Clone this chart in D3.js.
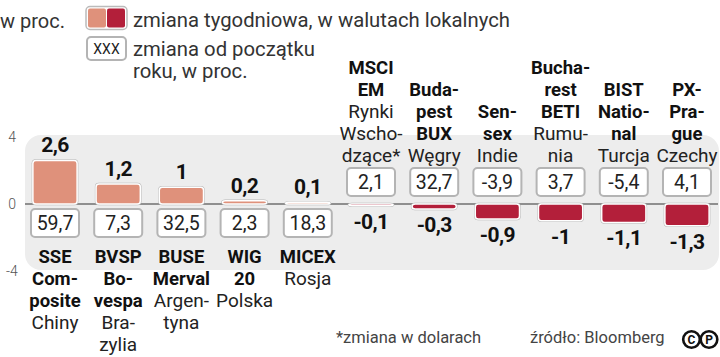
<!DOCTYPE html>
<html>
<head>
<meta charset="utf-8">
<script src="https://cdn.jsdelivr.net/npm/d3@7"></script>
<style>
  html, body { margin: 0; padding: 0; background: #fff; }
  svg { display: block; font-family: Roboto, "Noto Sans", sans-serif; }
</style>
</head>
<body>
<svg id="chart" width="720" height="357"></svg>
<script>
const categories = ["SSE", "BVSP", "BUSE", "WIG20", "MICEX", "MSCI EM", "BUX", "Sensex", "BETI", "BIST", "PX"];
const boldLines = [
  ["SSE", "Com-", "posite"],
  ["BVSP", "Bo-", "vespa"],
  ["BUSE", "Merval"],
  ["WIG", "20"],
  ["MICEX"],
  ["MSCI", "EM"],
  ["Buda-", "pest", "BUX"],
  ["Sen-", "sex"],
  ["Bucha-", "rest", "BETI"],
  ["BIST", "Natio-", "nal"],
  ["PX-", "Pra-", "gue"]
];
const countryLines = [
  ["Chiny"],
  ["Bra-", "zylia"],
  ["Argen-", "tyna"],
  ["Polska"],
  ["Rosja"],
  ["Rynki", "Wscho-", "dzące*"],
  ["Węgry"],
  ["Indie"],
  ["Rumu-", "nia"],
  ["Turcja"],
  ["Czechy"]
];
const weeklyChange = [2.6, 1.2, 1, 0.2, 0.1, -0.1, -0.3, -0.9, -1, -1.1, -1.3];
const ytdChange = [59.7, 7.3, 32.5, 2.3, 18.3, 2.1, 32.7, -3.9, 3.7, -5.4, 4.1];
const yTicks = [4, 0, -4];

const fmt = v => String(v).replace(".", ",");
const POS = "#df917b", NEG = "#b31f3a";

const svg = d3.select("#chart");

const x = d3.scaleBand().domain(categories).range([23.4, 718.6]).paddingInner(0.3).paddingOuter(0.15);
const y = d3.scaleLinear().domain([-4, 4]).range([271, 137]);
const y0 = y(0);

// panel
svg.append("rect").attr("x", 25).attr("y", 135).attr("width", 694).attr("height", 135)
  .attr("rx", 16).attr("fill", "#ededed");

// y axis labels
const yAxis = d3.axisLeft(y).tickValues(yTicks).tickSize(0).tickFormat(d => String(d));
const ya = svg.append("g").attr("transform", "translate(19,0)").call(yAxis);
ya.select(".domain").remove();
ya.selectAll("text").attr("font-size", 14).attr("fill", "#555").attr("font-family", "Roboto, sans-serif").attr("font-weight", 300).attr("text-anchor", "middle").attr("x", -7);

// zero line
svg.append("line").attr("x1", 25).attr("x2", 718).attr("y1", y0).attr("y2", y0)
  .attr("stroke", "#333").attr("stroke-width", 1.2);

const g = svg.append("g").selectAll("g").data(categories).join("g")
  .attr("transform", d => `translate(${x(d)},0)`);
const bw = x.bandwidth();

// bar shadows
g.append("rect")
  .attr("x", -1.2).attr("width", bw + 2.4)
  .attr("y", (d, i) => Math.min(y(weeklyChange[i]), y0) - 1.2)
  .attr("height", (d, i) => Math.abs(y(weeklyChange[i]) - y0) + 2.4)
  .attr("rx", 4).attr("fill", "#b5b5b5");
// bars
g.append("rect")
  .attr("x", 0).attr("width", bw)
  .attr("y", (d, i) => Math.min(y(weeklyChange[i]), y0))
  .attr("height", (d, i) => Math.abs(y(weeklyChange[i]) - y0))
  .attr("rx", 3).attr("fill", (d, i) => weeklyChange[i] >= 0 ? POS : NEG)
  .attr("stroke", "#fff").attr("stroke-width", 1.5);

// value labels
g.append("text")
  .attr("x", bw / 2)
  .attr("y", (d, i) => weeklyChange[i] >= 0 ? y(weeklyChange[i]) - 8 : y(weeklyChange[i]) + 23)
  .attr("text-anchor", "middle").attr("font-size", 21).attr("font-weight", 700)
  .attr("fill", "#111").attr("letter-spacing", -0.6)
  .text((d, i) => fmt(weeklyChange[i]));

// YTD boxes
const boxW = 48, boxH = 28;
const boxTop = i => weeklyChange[i] >= 0 ? y0 + 5 : y0 - 36;
g.append("rect")
  .attr("x", bw / 2 - boxW / 2).attr("width", boxW)
  .attr("y", (d, i) => boxTop(i)).attr("height", boxH)
  .attr("rx", 4).attr("fill", "#fff").attr("stroke", "#b4b4b4").attr("stroke-width", 2);
g.append("text")
  .attr("x", bw / 2).attr("y", (d, i) => boxTop(i) + 21)
  .attr("text-anchor", "middle").attr("font-size", 19.5).attr("fill", "#222")
  .text((d, i) => fmt(ytdChange[i]));

// category labels
g.each(function (d, i) {
  const lines = boldLines[i].map(t => ({ t, b: true })).concat(countryLines[i].map(t => ({ t, b: false })));
  const n = lines.length;
  const sel = d3.select(this);
  lines.forEach((ln, k) => {
    const yy = weeklyChange[i] >= 0 ? 263 + k * 22 : 162 - (n - 1 - k) * 22;
    sel.append("text").attr("x", bw / 2).attr("y", yy)
      .attr("text-anchor", "middle")
      .attr("font-size", ln.b ? 18.5 : 19)
      .attr("font-weight", ln.b ? 700 : 400)
      .attr("fill", ln.b ? "#111" : "#222")
      .text(ln.t);
  });
});

// legend
svg.append("text").attr("x", 0).attr("y", 28).attr("font-size", 20).attr("fill", "#333").text("w proc.");
svg.append("rect").attr("x", 86).attr("y", 6.5).attr("width", 41).attr("height", 23).attr("rx", 4)
  .attr("fill", "#fff").attr("stroke", "#bbb").attr("stroke-width", 1.5);
svg.append("rect").attr("x", 88).attr("y", 8.5).attr("width", 18).attr("height", 19).attr("rx", 2).attr("fill", POS);
svg.append("rect").attr("x", 107).attr("y", 8.5).attr("width", 18).attr("height", 19).attr("rx", 2).attr("fill", NEG);
svg.append("text").attr("x", 133).attr("y", 27).attr("font-size", 20).attr("fill", "#333")
  .attr("textLength", 377).attr("lengthAdjust", "spacingAndGlyphs")
  .text("zmiana tygodniowa, w walutach lokalnych");
svg.append("rect").attr("x", 87).attr("y", 37).attr("width", 39).attr("height", 23).attr("rx", 4)
  .attr("fill", "#fff").attr("stroke", "#b4b4b4").attr("stroke-width", 2);
svg.append("text").attr("x", 106.5).attr("y", 54).attr("text-anchor", "middle").attr("font-size", 14).attr("fill", "#222").text("XXX");
svg.append("text").attr("x", 133).attr("y", 56).attr("font-size", 20.3).attr("fill", "#333").text("zmiana od początku");
svg.append("text").attr("x", 133).attr("y", 78).attr("font-size", 20.3).attr("fill", "#333").text("roku, w proc.");

// footer
svg.append("text").attr("x", 336).attr("y", 343).attr("font-size", 16.5).attr("fill", "#444").text("*zmiana w dolarach");
svg.append("text").attr("x", 530).attr("y", 343).attr("font-size", 16.5).attr("fill", "#444").text("źródło: Bloomberg");
[["C", 691.5], ["P", 709]].forEach(([t, cx]) => {
  svg.append("circle").attr("cx", cx).attr("cy", 339.5).attr("r", 8.3).attr("fill", "none").attr("stroke", "#111").attr("stroke-width", 2.6);
  svg.append("text").attr("x", cx).attr("y", 344).attr("text-anchor", "middle").attr("font-size", 12).attr("font-weight", 700).attr("fill", "#111").text(t);
});
</script>
</body>
</html>
